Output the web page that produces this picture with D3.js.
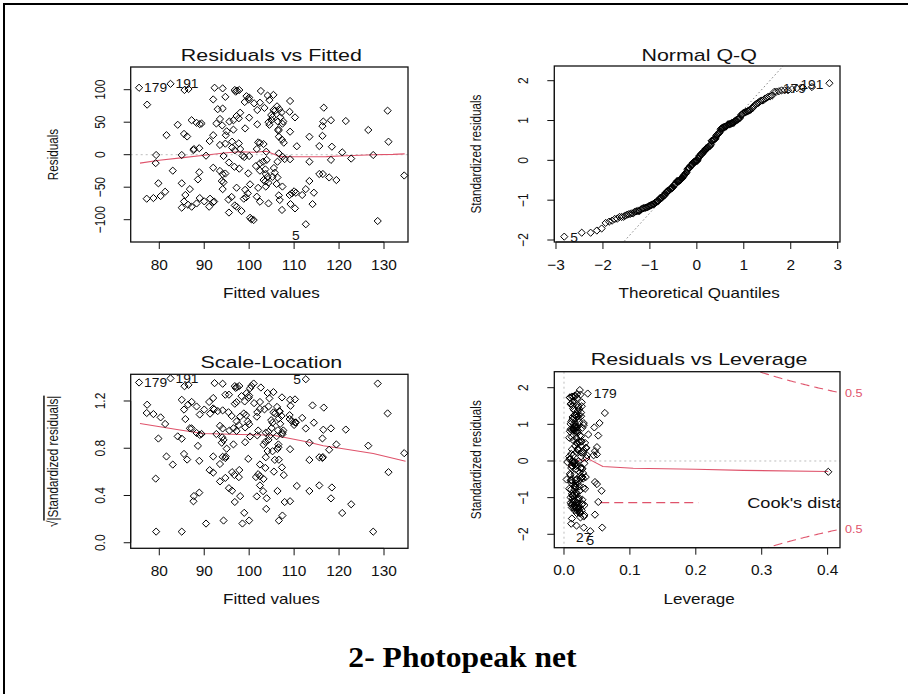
<!DOCTYPE html>
<html>
<head>
<meta charset="utf-8">
<script src="https://cdn.jsdelivr.net/npm/d3@7"></script>
<style>
  body { margin: 0; background: #fff; }
  svg { display: block; }
</style>
</head>
<body>
<svg id="chart" width="908" height="694"></svg>
<script>
// ---- model diagnostics data (one entry per observation) ----
const fitted = [
  75.5, 77.3, 82.5, 85.6, 86.5, 84.1, 81.6, 85.5, 86.2, 79.3,
  79.2, 85.0, 83.0, 79.8, 85.0, 81.3, 80.3, 78.7, 77.2, 85.8,
  86.8, 85.0, 85.5, 86.4, 87.2, 87.6, 87.7, 87.2, 88.3, 89.0,
  89.4, 88.9, 88.9, 88.6, 89.0, 88.3, 90.0, 90.4, 91.1, 91.3,
  92.0, 92.2, 91.2, 92.0, 92.0, 92.3, 92.0, 93.0, 94.1, 93.5,
  92.7, 94.0, 94.1, 94.7, 93.5, 94.7, 94.3, 93.5, 94.1, 94.7,
  93.9, 94.3, 94.1, 94.8, 95.0, 95.5, 95.4, 96.1, 95.5, 96.8,
  95.6, 96.5, 96.2, 96.2, 96.8, 96.8, 97.0, 97.3, 97.8, 96.5,
  97.2, 98.0, 97.7, 96.7, 97.8, 97.7, 98.0, 98.5, 97.2, 98.3,
  97.2, 99.0, 99.4, 100.0, 99.9, 99.1, 100.0, 98.9, 100.0, 99.8,
  100.2, 99.1, 99.7, 98.8, 99.3, 100.2, 100.5, 101.0, 101.1, 102.4,
  102.6, 101.8, 101.8, 102.0, 102.4, 103.2, 101.7, 101.5, 102.4, 102.4,
  102.0, 101.7, 102.4, 103.4, 104.1, 104.5, 105.4, 105.4, 103.8, 103.1,
  103.9, 103.6, 103.7, 104.1, 103.2, 103.6, 104.3, 103.7, 104.3, 104.3,
  105.0, 105.2, 104.9, 104.5, 106.2, 105.8, 106.7, 107.2, 106.9, 106.4,
  107.4, 107.6, 106.5, 106.5, 106.6, 107.3, 107.7, 106.6, 106.3, 107.4,
  107.9, 105.5, 105.7, 105.2, 106.3, 106.1, 107.4, 106.6, 106.8, 107.3,
  109.1, 109.0, 110.2, 109.1, 110.6, 109.1, 109.0, 109.5, 110.0, 110.4,
  109.2, 110.2, 111.8, 112.6, 112.6, 113.4, 113.4, 113.4, 114.4, 114.1,
  115.6, 115.6, 116.3, 116.4, 116.6, 116.5, 116.3, 118.2, 118.4, 118.2,
  117.8, 119.4, 120.7, 121.5, 122.7, 126.5, 127.6, 128.6, 130.8, 131.0,
  134.5
];
const residuals = [
  103, 77, 109, 99.5, 101, 46, 30, 32, 28, -0.5,
  -13, -0.5, -24.6, -44, -44, -57, -63.6, -66.7, -67.7, -62,
  -53, -81.5, -72, -77, -80, 7, 8.7, 53, 49, 47,
  48, 10, -27, -38, -66.7, -75, -71.8, -1.5, -80, -67.7,
  -73, -72, 21, 30, 85, 103, -20, 70, 71, 55,
  48, 45, 102, 89, 15, 17, -2, -25, -30, -29,
  -40.5, -42.5, -53, 30, 36, -12, -69, -65, -89, -78,
  51, 53, 20, 11, 6.7, 99.5, 97, 98.5, 99.5, 38.5,
  59.5, 64.6, 56, -18.5, -21.5, 17.4, 8.7, -1.5, -50.8, -86.7,
  -80, 81, 90, 88, 85, 40.5, 57, -3.6, -2, -28.7,
  -45.6, -54, -59.5, -67.7, -65.6, -97, -99.5, -100.5, 79, 80,
  98, 68.7, 46.7, 19, 18, 16.4, 8.7, -17.4, -13.3, -24.6,
  -51, -64.6, -72.3, 72, 91, 84, 92, 68.7, 4.6, -10.8,
  -8, -22.6, -29.7, -34, -39, -41, -43, -49, -75, 50,
  53.3, 58, 61, 46, 74.4, 68, 70, 65, 57.5, 51,
  47.7, 51, 39, 37, 27.7, 23, 18.5, 2, -10.8, -3,
  -6.7, -20.5, -27.7, -34, -35, -45, -49, -62.6, -69.7, -85,
  82.6, 66, 57.4, 35.4, 13, -7, -62, -59.5, -56.4, -58.5,
  -76, -82.6, -62, -53, -107, 27.7, -10.8, -40.5, -58.5, -76,
  13.3, -29.7, 29, -29.7, 72.3, 51, 44, 53, 12.3, -8,
  -35, -39, 3.6, 51.8, -6, 38, -0.5, -102, 67.7, 20,
  -32
];
const leverage = [
  0.036, 0.021, 0.024, 0.012, 0.017, 0.009, 0.026, 0.014, 0.019, 0.022,
  0.401, 0.013, 0.028, 0.016, 0.011, 0.023, 0.019, 0.027, 0.031, 0.015,
  0.018, 0.047, 0.012, 0.020, 0.025, 0.008, 0.045, 0.016, 0.010, 0.021,
  0.014, 0.050, 0.029, 0.017, 0.013, 0.022, 0.018, 0.005, 0.024, 0.011,
  0.019, 0.015, 0.050, 0.027, 0.013, 0.020, 0.009, 0.023, 0.016, 0.030,
  0.012, 0.018, 0.025, 0.011, 0.047, 0.021, 0.014, 0.026, 0.010, 0.019,
  0.017, 0.032, 0.013, 0.022, 0.008, 0.028, 0.016, 0.020, 0.012, 0.024,
  0.015, 0.019, 0.033, 0.011, 0.026, 0.014, 0.020, 0.009, 0.017, 0.052,
  0.023, 0.013, 0.018, 0.029, 0.010, 0.021, 0.035, 0.016, 0.012, 0.025,
  0.019, 0.014, 0.027, 0.010, 0.022, 0.037, 0.015, 0.031, 0.018, 0.004,
  0.024, 0.013, 0.020, 0.016, 0.028, 0.011, 0.019, 0.058, 0.015, 0.023,
  0.009, 0.026, 0.017, 0.021, 0.012, 0.030, 0.014, 0.024, 0.018, 0.033,
  0.016, 0.010, 0.022, 0.019, 0.013, 0.027, 0.015, 0.020, 0.034, 0.011,
  0.018, 0.025, 0.012, 0.021, 0.016, 0.029, 0.008, 0.019, 0.023, 0.014,
  0.017, 0.030, 0.011, 0.020, 0.026, 0.013, 0.018, 0.022, 0.010, 0.028,
  0.015, 0.019, 0.024, 0.012, 0.032, 0.017, 0.021, 0.009, 0.027, 0.014,
  0.020, 0.016, 0.025, 0.011, 0.050, 0.057, 0.018, 0.013, 0.023, 0.030,
  0.021, 0.015, 0.054, 0.019, 0.026, 0.012, 0.017, 0.028, 0.010, 0.022,
  0.016, 0.031, 0.052, 0.014, 0.040, 0.020, 0.025, 0.018, 0.013, 0.027,
  0.019, 0.011, 0.024, 0.017, 0.062, 0.046, 0.021, 0.015, 0.029, 0.012,
  0.018, 0.023, 0.009, 0.020, 0.016, 0.026, 0.013, 0.030, 0.019, 0.034,
  0.047
];
const residualSE = 57;   // residual standard error of the fit
const nCoef = 5;         // number of model coefficients (Cook's distance contours)
const cookLevels = [0.5];

// case numbers of the most extreme observations (array index -> case)
const caseLabels = [
  { label: "179", index: 0 },
  { label: "191", index: 2 },
  { label: "5",   index: 184 },
  { label: "27",  index: 207 }
];
const residualCases = ["179", "191", "5"];   // largest |residual|
const cookCases = ["179", "27", "5"];        // largest Cook's distance

// smoothed trend lines
const smoothRvF = [[75.7,-13],[80,-8.5],[85.3,-4.5],[90.5,-0.5],[95,3],[98,4.6],[101,3.8],[103.9,5.2],[105.4,1],[106.9,-3],[109.8,-3.2],[112.8,-3.2],[117.2,-3],[120.2,-2],[124.7,-0.8],[127.6,0],[132,0.5],[134.6,1.2]];
const smoothScale = [[75.7,1.01],[84.6,0.955],[89.8,0.925],[98,0.917],[105.4,0.91],[109.1,0.883],[112.8,0.855],[116.5,0.821],[120.2,0.8],[127.6,0.756],[134.8,0.69]];
const smoothLev = [[0.0065,-0.15],[0.0167,-0.06],[0.0253,0.05],[0.029,-0.01],[0.035,0.075],[0.042,0.01],[0.059,-0.15],[0.105,-0.2],[0.2,-0.225],[0.272,-0.255],[0.401,-0.285]];
const qqLine = { intercept: -0.02, slope: 1.30 };

// axis ticks
const fittedTicks = [80, 90, 100, 110, 120, 130];
const residTicks = [-100, -50, 0, 50, 100];
const quantTicks = [-3, -2, -1, 0, 1, 2, 3];
const stdTicks = [-2, -1, 0, 1, 2];
const sqrtTicks = [0.0, 0.4, 0.8, 1.2];
const levTicks = [0.0, 0.1, 0.2, 0.3, 0.4];

const titles = ["Residuals vs Fitted", "Normal Q-Q", "Scale-Location", "Residuals vs Leverage"];
const pageTitle = "2- Photopeak net";

// ---- derived per-observation quantities ----
const n = fitted.length;
const stdResid = residuals.map((r, i) => r / (residualSE * Math.sqrt(1 - leverage[i])));
const sqrtAbsStd = stdResid.map(v => Math.sqrt(Math.abs(v)));

// inverse standard normal CDF (Acklam's rational approximation)
function qnorm(p) {
  const a = [-3.969683028665376e+01, 2.209460984245205e+02, -2.759285104469687e+02, 1.383577518672690e+02, -3.066479806614716e+01, 2.506628277459239e+00];
  const b = [-5.447609879822406e+01, 1.615858368580409e+02, -1.556989798598866e+02, 6.680131188771972e+01, -1.328068155288572e+01];
  const c = [-7.784894002430293e-03, -3.223964580411365e-01, -2.400758277161838e+00, -2.549732539343734e+00, 4.374664141464968e+00, 2.938163982698783e+00];
  const d = [7.784695709041462e-03, 3.224671290700398e-01, 2.445134137142996e+00, 3.754408661907416e+00];
  const pl = 0.02425;
  if (p < pl) {
    const q = Math.sqrt(-2 * Math.log(p));
    return (((((c[0]*q+c[1])*q+c[2])*q+c[3])*q+c[4])*q+c[5]) / ((((d[0]*q+d[1])*q+d[2])*q+d[3])*q+1);
  }
  if (p > 1 - pl) {
    const q = Math.sqrt(-2 * Math.log(1 - p));
    return -(((((c[0]*q+c[1])*q+c[2])*q+c[3])*q+c[4])*q+c[5]) / ((((d[0]*q+d[1])*q+d[2])*q+d[3])*q+1);
  }
  const q = p - 0.5, r = q * q;
  return (((((a[0]*r+a[1])*r+a[2])*r+a[3])*r+a[4])*r+a[5])*q / (((((b[0]*r+b[1])*r+b[2])*r+b[3])*r+b[4])*r+1);
}
const order = d3.range(n).sort((i, j) => stdResid[i] - stdResid[j]);
const theoQ = new Array(n);
order.forEach((idx, rank) => { theoQ[idx] = qnorm((rank + 0.5) / n); });

// ---- drawing ----
const svg = d3.select("#chart");
const SANS = "'Liberation Sans', Arial, Helvetica, sans-serif";
const RED = "#DF536B";

svg.append("rect").attr("width", 908).attr("height", 694).attr("fill", "#fff");
// page frame (top and left edges)
svg.append("path").attr("d", "M4,694 V4 H908").attr("fill", "none").attr("stroke", "#000").attr("stroke-width", 2);

function txt(g, s, x, y, o = {}) {
  return g.append("text")
    .attr("font-family", o.family || SANS)
    .attr("font-size", o.size || 15)
    .attr("font-weight", o.weight || "normal")
    .attr("fill", o.color || "#111")
    .attr("text-anchor", o.anchor || "middle")
    .attr("transform", `translate(${x},${y}) rotate(${o.rot || 0}) scale(${o.sx || 1},1)`)
    .text(s);
}

const diamond = (x, y, r = 3.6) => `M${x},${y - r}L${x + r},${y}L${x},${y + r}L${x - r},${y}Z`;

const fmtInt = d3.format("d"), fmt1 = d3.format(".1f");

// panel layout: plot region in pixels and the data range it spans
const panels = [
  { key: "rvf",   box: [130.7, 408, 67, 242],      xd: [73.64, 135.34], yd: [-134.3, 134.9], xt: fittedTicks, yt: residTicks, xf: fmtInt, yf: fmtInt, xl: "Fitted values", yl: "Residuals" },
  { key: "qq",    box: [554.3, 840, 66, 242],      xd: [-3.036, 3.049], yd: [-2.05, 2.369],  xt: quantTicks,  yt: stdTicks,   xf: fmtInt, yf: fmtInt, xl: "Theoretical Quantiles", yl: "Standardized residuals" },
  { key: "scale", box: [130.7, 408, 374.3, 548.3], xd: [73.64, 135.34], yd: [-0.047, 1.426], xt: fittedTicks, yt: sqrtTicks,  xf: fmtInt, yf: fmt1,   xl: "Fitted values", yl: null },
  { key: "lev",   box: [554.3, 840, 371.7, 547.7], xd: [-0.0147, 0.4188], yd: [-2.366, 2.4366], xt: levTicks, yt: stdTicks,  xf: fmt1,   yf: fmtInt, xl: "Leverage", yl: "Standardized residuals" }
];

panels.forEach((p, k) => {
  const [x0, x1, y0, y1] = p.box;
  const x = d3.scaleLinear().domain(p.xd).range([x0, x1]);
  const y = d3.scaleLinear().domain(p.yd).range([y1, y0]);
  p.x = x; p.y = y;
  const g = svg.append("g");
  p.g = g;
  const clipId = "clip" + k;
  svg.append("clipPath").attr("id", clipId).append("rect")
    .attr("x", x0).attr("y", y0).attr("width", x1 - x0).attr("height", y1 - y0);
  p.clip = g.append("g").attr("clip-path", `url(#${clipId})`);

  // bottom axis
  const ax = g.append("g").attr("stroke", "#111").attr("stroke-width", 1);
  ax.append("line").attr("x1", x(p.xt[0])).attr("x2", x(p.xt[p.xt.length - 1])).attr("y1", y1).attr("y2", y1);
  p.xt.forEach(v => {
    ax.append("line").attr("x1", x(v)).attr("x2", x(v)).attr("y1", y1).attr("y2", y1 + 7);
    txt(g, p.xf(v), x(v), y1 + 27.5, { size: 15, sx: 1.03 });
  });
  // left axis
  ax.append("line").attr("y1", y(p.yt[0])).attr("y2", y(p.yt[p.yt.length - 1])).attr("x1", x0).attr("x2", x0);
  p.yt.forEach(v => {
    ax.append("line").attr("y1", y(v)).attr("y2", y(v)).attr("x1", x0).attr("x2", x0 - 7);
    txt(g, p.yf(v), x0 - 26, y(v), { size: 15, rot: -90, sx: 0.8 });
  });
  // frame
  g.append("rect").attr("x", x0).attr("y", y0).attr("width", x1 - x0).attr("height", y1 - y0)
    .attr("fill", "none").attr("stroke", "#111").attr("stroke-width", 1.3);

  // titles and axis labels
  txt(g, titles[k], (x0 + x1) / 2 + 2, y0 - (k % 2 === 0 ? 6.3 : 5.3) + (k === 3 ? -1 : 0), { size: 16, sx: 1.34 });
  txt(g, p.xl, (x0 + x1) / 2 + 2, y1 + 56, { size: 14, sx: 1.22 });
  if (p.yl) txt(g, p.yl, x0 - 73, (y0 + y1) / 2, { size: 15, rot: -90, sx: 0.78 });
});

const byLabel = Object.fromEntries(caseLabels.map(c => [c.label, c.index]));

// --- Residuals vs Fitted ---
{
  const p = panels[0], { x, y, clip, g } = p;
  clip.append("line").attr("x1", p.box[0]).attr("x2", p.box[1]).attr("y1", y(0)).attr("y2", y(0))
    .attr("stroke", "#bdbdbd").attr("stroke-dasharray", "2,3");
  g.append("g").selectAll("path").data(d3.range(n)).join("path")
    .attr("d", i => diamond(x(fitted[i]), y(residuals[i])))
    .attr("fill", "none").attr("stroke", "#000").attr("stroke-width", 1);
  clip.append("path").datum(smoothRvF).attr("d", d3.line().x(d => x(d[0])).y(d => y(d[1])))
    .attr("fill", "none").attr("stroke", RED).attr("stroke-width", 1.1);
  residualCases.forEach(lab => {
    const i = byLabel[lab], px = x(fitted[i]), py = y(residuals[i]);
    if (fitted[i] > 105) txt(g, lab, px - 10, py + 16, { size: 12, sx: 1.15 });
    else txt(g, lab, px + 5, py + 4.5, { size: 12, sx: 1.15, anchor: "start" });
  });
}

// --- Normal Q-Q ---
{
  const p = panels[1], { x, y, clip, g } = p;
  const qx = p.xd;
  clip.append("line").attr("x1", x(qx[0])).attr("x2", x(qx[1]))
    .attr("y1", y(qqLine.intercept + qqLine.slope * qx[0])).attr("y2", y(qqLine.intercept + qqLine.slope * qx[1]))
    .attr("stroke", "#808080").attr("stroke-dasharray", "1.5,2.5");
  g.append("g").selectAll("path").data(d3.range(n)).join("path")
    .attr("d", i => diamond(x(theoQ[i]), y(stdResid[i])))
    .attr("fill", "none").attr("stroke", "#000").attr("stroke-width", 1);
  residualCases.forEach(lab => {
    const i = byLabel[lab], px = x(theoQ[i]), py = y(stdResid[i]);
    if (theoQ[i] < 0) txt(g, lab, px + 6, py + 5, { size: 12, sx: 1.15, anchor: "start" });
    else txt(g, lab, px - 6, py + 6, { size: 12, sx: 1.15, anchor: "end" });
  });
}

// --- Scale-Location ---
{
  const p = panels[2], { x, y, clip, g } = p;
  g.append("g").selectAll("path").data(d3.range(n)).join("path")
    .attr("d", i => diamond(x(fitted[i]), y(sqrtAbsStd[i])))
    .attr("fill", "none").attr("stroke", "#000").attr("stroke-width", 1);
  clip.append("path").datum(smoothScale).attr("d", d3.line().x(d => x(d[0])).y(d => y(d[1])))
    .attr("fill", "none").attr("stroke", RED).attr("stroke-width", 1.1);
  residualCases.forEach(lab => {
    const i = byLabel[lab], px = x(fitted[i]), py = y(sqrtAbsStd[i]);
    if (fitted[i] > 105) txt(g, lab, px - 5, py + 4.5, { size: 12, sx: 1.15, anchor: "end" });
    else txt(g, lab, px + 5, py + 4.5, { size: 12, sx: 1.15, anchor: "start" });
  });
  // y label: square root of |standardized residuals|
  const yl = g.append("text").attr("font-family", SANS).attr("font-size", 15).attr("fill", "#111")
    .attr("text-anchor", "middle")
    .attr("transform", `translate(${p.box[0] - 73},${(p.box[2] + p.box[3]) / 2}) rotate(-90) scale(0.78,1)`);
  yl.append("tspan").text("\u221A");
  yl.append("tspan").attr("text-decoration", "overline").text("|Standardized residuals|");
}

// --- Residuals vs Leverage ---
{
  const p = panels[3], { x, y, clip, g } = p;
  clip.append("line").attr("x1", p.box[0]).attr("x2", p.box[1]).attr("y1", y(0)).attr("y2", y(0))
    .attr("stroke", "#bdbdbd").attr("stroke-dasharray", "2,3");
  clip.append("line").attr("x1", x(0)).attr("x2", x(0)).attr("y1", p.box[2]).attr("y2", p.box[3])
    .attr("stroke", "#bdbdbd").attr("stroke-dasharray", "2,3");
  g.append("g").selectAll("path").data(d3.range(n)).join("path")
    .attr("d", i => diamond(x(leverage[i]), y(stdResid[i])))
    .attr("fill", "none").attr("stroke", "#000").attr("stroke-width", 1);
  clip.append("path").datum(smoothLev).attr("d", d3.line().x(d => x(d[0])).y(d => y(d[1])))
    .attr("fill", "none").attr("stroke", RED).attr("stroke-width", 1.1);
  // Cook's distance contours
  const hmax = p.xd[1];
  cookLevels.forEach(lv => {
    const hs = d3.range(0.2, hmax + 1e-9, 0.002).concat([hmax]);
    [1, -1].forEach(sg => {
      const pts = hs.map(h => [h, sg * Math.sqrt(lv * nCoef * (1 - h) / h)]);
      clip.append("path").datum(pts).attr("d", d3.line().x(d => x(d[0])).y(d => y(d[1])))
        .attr("fill", "none").attr("stroke", RED).attr("stroke-width", 1.1).attr("stroke-dasharray", "9,5");
      txt(g, String(lv), p.box[1] + 5, y(sg * Math.sqrt(lv * nCoef * (1 - hmax) / hmax)) + 4,
        { size: 11, sx: 1.15, anchor: "start", color: RED });
    });
  });
  // legend
  clip.append("line").attr("x1", x(0.055)).attr("x2", x(0.204)).attr("y1", y(-1.135)).attr("y2", y(-1.135))
    .attr("stroke", RED).attr("stroke-width", 1.1).attr("stroke-dasharray", "9,5");
  clip.append("text").attr("font-family", SANS).attr("font-size", 14).attr("fill", "#111")
    .attr("transform", `translate(${x(0.278)},${y(-1.135) + 5.5}) scale(1.3,1)`).text("Cook's distance");
  // case labels
  cookCases.forEach(lab => {
    const i = byLabel[lab], px = x(leverage[i]), py = y(stdResid[i]);
    if (stdResid[i] > 0) txt(g, lab, px + 6, py + 4.5, { size: 12, sx: 1.15, anchor: "start" });
    else txt(g, lab, px, py + 14, { size: 12, sx: 1.15 });
  });
}

// page caption
txt(svg, pageTitle, 462.5, 666.5, { family: "'Liberation Serif', 'Times New Roman', serif", size: 29, weight: "bold", sx: 1.09, color: "#000" });
</script>
</body>
</html>
